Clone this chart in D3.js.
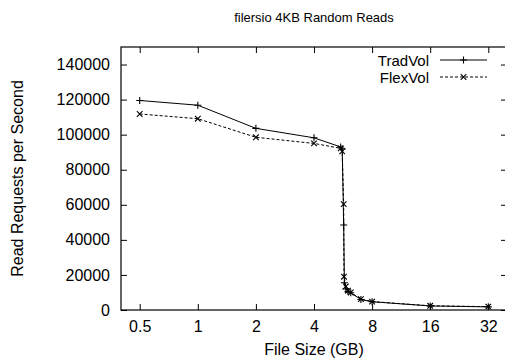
<!DOCTYPE html>
<html><head><meta charset="utf-8">
<script src="https://cdn.jsdelivr.net/npm/d3@7"></script>
<style>html,body{margin:0;padding:0;background:#fff;} svg{display:block;font-family:"Liberation Sans",Arial,Helvetica,sans-serif;}</style>
</head><body>
<svg id="chart" width="505" height="360"></svg>
<script>
const title = "filersio 4KB Random Reads";
const xLabel = "File Size (GB)";
const yLabel = "Read Requests per Second";
const xTicks = [0.5, 1, 2, 4, 8, 16, 32];
const xTickLabels = ["0.5", "1", "2", "4", "8", "16", "32"];
const yTicks = [0, 20000, 40000, 60000, 80000, 100000, 120000, 140000];
const seriesNames = ["TradVol", "FlexVol"];
const tradSizes = [0.5, 1, 2, 4, 5.5, 5.6, 5.7, 5.75, 5.85, 6.0, 6.2, 7, 8, 16, 32];
const tradValues = [119500, 116800, 103600, 98200, 93000, 92000, 48500, 15500, 12000, 10500, 9800, 6000, 4700, 2300, 1800];
const flexSizes = [0.5, 1, 2, 4, 5.5, 5.6, 5.7, 5.72, 5.85, 6.0, 6.2, 7, 8, 16, 32];
const flexValues = [111800, 109100, 98500, 95000, 92200, 90500, 60400, 19000, 13500, 11000, 10000, 6200, 4800, 2400, 1900];

const svg = d3.select("#chart");
const L = 121, R = 507, T = 47, B = 310;
const x = d3.scaleLog().base(2).domain([0.4, 40]).range([L, R]);
const y = d3.scaleLinear().domain([0, 150000]).range([B, T]);
const tickLen = 6;
const fs = 16;

// frame
svg.append("rect").attr("x", L).attr("y", T).attr("width", R - L).attr("height", B - T)
  .attr("fill", "none").attr("stroke", "#000").attr("stroke-width", 1.2);

// axes via d3 axes (inner ticks)
const xAxisB = d3.axisBottom(x).tickValues(xTicks).tickFormat((d, i) => xTickLabels[i]).tickSizeInner(-tickLen).tickSizeOuter(0).tickPadding(11);
const gxb = svg.append("g").attr("transform", `translate(0,${B})`).call(xAxisB);
const xAxisT = d3.axisTop(x).tickValues(xTicks).tickFormat("").tickSizeInner(-tickLen).tickSizeOuter(0);
const gxt = svg.append("g").attr("transform", `translate(0,${T})`).call(xAxisT);
const yAxisL = d3.axisLeft(y).tickValues(yTicks).tickFormat(d3.format("d")).tickSizeInner(-tickLen).tickSizeOuter(0).tickPadding(11);
const gyl = svg.append("g").attr("transform", `translate(${L},0)`).call(yAxisL);
const yAxisR = d3.axisRight(y).tickValues(yTicks).tickFormat("").tickSizeInner(-tickLen).tickSizeOuter(0);
const gyr = svg.append("g").attr("transform", `translate(${R},0)`).call(yAxisR);
[gxb, gxt, gyl, gyr].forEach(g => {
  g.select(".domain").remove();
  g.selectAll("line").attr("stroke", "#000").attr("stroke-width", 1);
  g.selectAll("text").attr("fill", "#000").attr("font-size", fs).attr("font-family", "Liberation Sans, Arial, sans-serif");
});

// title and labels
svg.append("text").attr("x", (L + R) / 2).attr("y", 22).attr("text-anchor", "middle").attr("font-size", 13).text(title);
svg.append("text").attr("x", (L + R) / 2).attr("y", 355).attr("text-anchor", "middle").attr("font-size", fs).text(xLabel);
svg.append("text").attr("transform", `translate(23,${(T + B) / 2}) rotate(-90)`).attr("text-anchor", "middle").attr("font-size", fs).text(yLabel);

const line = d3.line().x(d => x(d[0])).y(d => y(d[1]));
const trad = tradSizes.map((s, i) => [s, tradValues[i]]);
const flex = flexSizes.map((s, i) => [s, flexValues[i]]);

function plus(g, cx, cy, r) {
  g.append("path").attr("d", `M${cx - r},${cy}H${cx + r}M${cx},${cy - r}V${cy + r}`).attr("stroke", "#000").attr("stroke-width", 1.1).attr("fill", "none");
}
function cross(g, cx, cy, r) {
  g.append("path").attr("d", `M${cx - r},${cy - r}L${cx + r},${cy + r}M${cx - r},${cy + r}L${cx + r},${cy - r}`).attr("stroke", "#000").attr("stroke-width", 1.1).attr("fill", "none");
}

const gp = svg.append("g");
gp.append("path").datum(flex).attr("d", line).attr("fill", "none").attr("stroke", "#000").attr("stroke-width", 1).attr("stroke-dasharray", "3,2");
gp.append("path").datum(trad).attr("d", line).attr("fill", "none").attr("stroke", "#000").attr("stroke-width", 1);
trad.forEach(d => plus(gp, x(d[0]), y(d[1]), 3.5));
flex.forEach(d => cross(gp, x(d[0]), y(d[1]), 2.8));

// legend
const lg = svg.append("g");
const lx1 = 440, lx2 = 487, textX = 429, lfs = 15;
const rows = [{ name: seriesNames[0], yy: 60, dash: null, mk: plus }, { name: seriesNames[1], yy: 77, dash: "3,2", mk: cross }];
rows.forEach(r => {
  lg.append("text").attr("x", textX).attr("y", r.yy + 5.5).attr("text-anchor", "end").attr("font-size", lfs).text(r.name);
  lg.append("line").attr("x1", lx1).attr("x2", lx2).attr("y1", r.yy).attr("y2", r.yy).attr("stroke", "#000").attr("stroke-width", 1).attr("stroke-dasharray", r.dash);
  r.mk(lg, (lx1 + lx2) / 2, r.yy, r.mk === plus ? 3.5 : 2.8);
});
</script>
</body></html>
